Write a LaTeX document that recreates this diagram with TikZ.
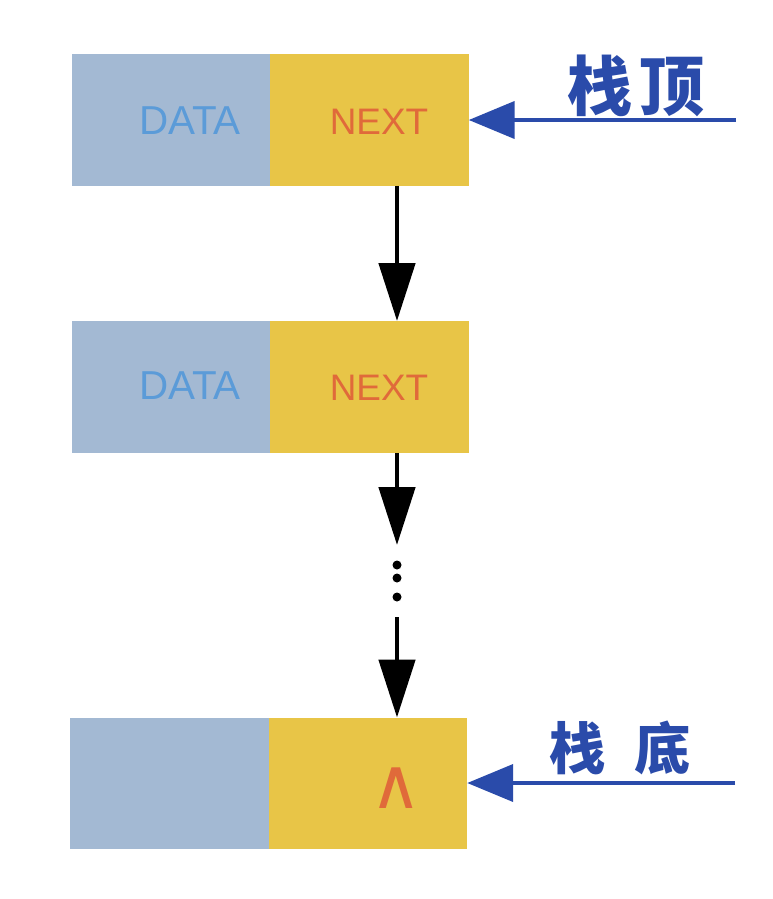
\documentclass[tikz,border=0pt]{standalone}
\usepackage{fontspec}
\setmainfont{Liberation Sans}
\newfontfamily\cjk{Noto Sans CJK SC}
\newfontfamily\symfont{DejaVu Sans}
\usetikzlibrary{arrows.meta}

\definecolor{datablue}{HTML}{A3B9D3}
\definecolor{nextyellow}{HTML}{E8C547}
\definecolor{datatext}{HTML}{5B9BD8}
\definecolor{nexttext}{HTML}{E06A3A}
\definecolor{stackblue}{HTML}{2A4BAA}

\tikzset{
    cell/.style={minimum width=3.97cm, minimum height=2.64cm, inner sep=0pt, outer sep=0pt},
    datacell/.style={cell, fill=datablue},
    nextcell/.style={cell, fill=nextyellow},
    datatag/.style={text=datatext, font=\fontsize{23}{23}\selectfont},
    nexttag/.style={text=nexttext, font=\fontsize{21}{21}\selectfont},
    link/.style={line width=2.8pt, -{Triangle[length=1.16cm, width=0.72cm]}},
    pointer/.style={line width=2.4pt, stackblue, -{Triangle[length=0.92cm, width=0.74cm]}},
    tag/.style={text=stackblue, font=\cjk\bfseries\fontsize{37}{37}\selectfont}
}

\begin{document}
\begin{tikzpicture}[x=0.02cm, y=-0.02cm]
    \useasboundingbox (0,0) rectangle (772,899);

    % stack nodes
    \node[datacell] (data1) at (171,120) {};
    \node[nextcell] (next1) at (369.5,120) {};
    \node[datacell] (data2) at (171,387) {};
    \node[nextcell] (next2) at (369.5,387) {};
    \node[datacell] (data3) at (169.5,783.5) {};
    \node[nextcell] (next3) at (368,783.5) {};

    \node[datatag] (dlabel1) at (190,121) {DATA};
    \node[nexttag] (nlabel1) at (379,122) {NEXT};
    \node[datatag] (dlabel2) at (190,386) {DATA};
    \node[nexttag] (nlabel2) at (379,388) {NEXT};
    \node[text=nexttext, font=\symfont\fontsize{40}{40}\selectfont] (nil) at (396,788) {∧};

    % links
    \coordinate (col) at (397,0);
    \coordinate (dotstop) at (397,545);
    \coordinate (dotsbot) at (397,617);
    \draw[link] (next1.south -| col) -- (next2.north -| col);
    \draw[link] (next2.south -| col) -- (dotstop);
    \fill (397,565) circle (4.5) (397,578) circle (4.5) (397,597) circle (4.5);
    \draw[link] (dotsbot) -- (next3.north -| col);

    % top and bottom pointers
    \coordinate (topin) at (736,120);
    \coordinate (botin) at (735,783);
    \draw[pointer] (topin) -- (next1.east |- topin);
    \draw[pointer] (botin) -- (next3.east |- botin);
    \node[tag] (toplabel) at (636,86) {栈\hspace{4pt}顶};
    \node[tag, font=\cjk\bfseries\fontsize{32}{32}\selectfont] (botlabel) at (620,748) {栈\hspace{16pt}底};
\end{tikzpicture}
\end{document}
